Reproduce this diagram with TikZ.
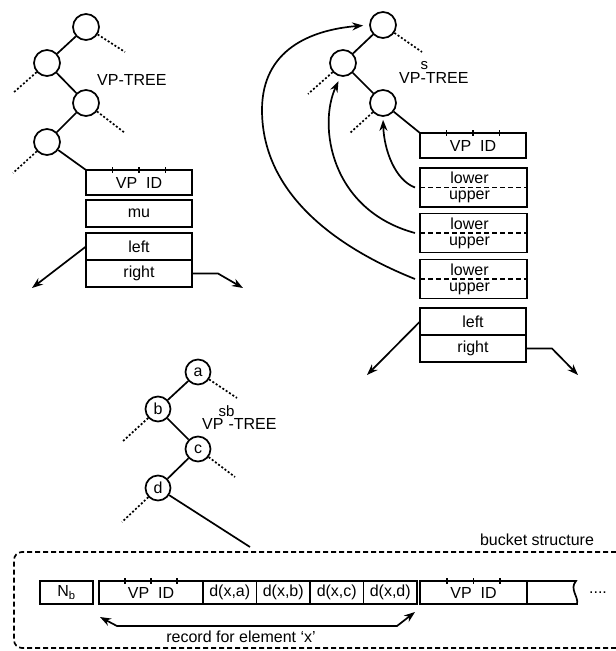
\documentclass[tikz,border=0pt]{standalone}
\usepackage{fontspec}
\setmainfont{Liberation Sans}
\usetikzlibrary{arrows.meta,positioning,calc}
\tikzset{
  vp/.style={circle,draw,minimum size=26pt,inner sep=0pt},
  fld/.style={rectangle,draw,inner sep=0pt,outer sep=0pt,minimum height=27pt},
  dotline/.style={dash pattern=on 2pt off 2pt},
  cutline/.style={dash pattern=on 5pt off 3pt},
  arr/.style={-{Stealth[length=11pt,width=8pt]}},
}

\begin{document}
\begin{tikzpicture}[x=1pt,y=-1pt,line width=1.7pt,font=\fontsize{16}{19}\selectfont]
\useasboundingbox (0,0) rectangle (616,651);

\node (l1) at (86,27) [vp] {};
\node (l2) at (47,63) [vp] {};
\node (l3) at (86,103) [vp] {};
\node (l4) at (47,142) [vp] {};
\coordinate (l1d) at (125,52);
\coordinate (l2d) at (13,93);
\coordinate (l3d) at (125,133);
\coordinate (l4d) at (13,173);
\node (lt) at (93,85) [anchor=base west] {VP-TREE};
\node (lid) at (139,182.5) [fld,minimum width=106pt,minimum height=25pt] {VP\ \ ID};
\node (lmu) at (139,213.5) [fld,minimum width=106pt] {mu};
\node (lleft) at (139,246.5) [fld,minimum width=106pt] {left};
\node (lright) at (139,273.5) [fld,minimum width=106pt] {right};
\coordinate (lle) at (32,288);
\coordinate (lre) at (243,288);
\draw (l1)--(l2)--(l3)--(l4)--(lid.north west);
\draw[dotline] (l1)--(l1d);
\draw[dotline] (l2)--(l2d);
\draw[dotline] (l3)--(l3d);
\draw[dotline] (l4)--(l4d);
\draw[arr] (lleft.west)--(lle);
\draw[arr] (lright.east)--++(26,0)--(lre);

\node (r1) at (383,25) [vp] {};
\node (r2) at (343,63) [vp] {};
\node (r3) at (383,103) [vp] {};
\coordinate (r1d) at (422,52);
\coordinate (r2d) at (308,94);
\coordinate (r3d) at (350,133);
\node (rt) at (395,83) [anchor=base west] {VP\rlap{\raisebox{14pt}{\fontsize{15}{18}\selectfont s}}-TREE};
\node (rid) at (473,145.5) [fld,minimum width=106pt,minimum height=25pt] {VP\ \ ID};
\draw (r1)--(r2)--(r3)--(rid.north west);
\draw[dotline] (r1)--(r1d);
\draw[dotline] (r2)--(r2d);
\draw[dotline] (r3)--(r3d);
\foreach \i/\y in {1/187.5,2/233,3/279}{
  \node (lu\i) at (473.5,\y) [fld,minimum width=107pt,minimum height=39pt] {};
  \draw[cutline] (lu\i.west)--(lu\i.east);
  \node (lo\i) at ([shift={(-4pt,9.5pt)}]lu\i.center) {lower};
  \node (up\i) at ([shift={(-4pt,-9.5pt)}]lu\i.center) {upper};
}
\node (rleft) at (473,321.5) [fld,minimum width=106pt] {left};
\node (rright) at (473,348.5) [fld,minimum width=106pt] {right};
\coordinate (rle) at (367,375);
\coordinate (rre) at (578,375);
\draw[arr] (rleft.west)--(rle);
\draw[arr] (rright.east)--++(26,0)--(rre);
\draw[arr,shorten >=3pt] ([xshift=-5pt]lu1.west) .. controls (395,180) and (384,150) .. (r3.-90);
\draw[arr,shorten >=5pt] ([xshift=-5pt]lu2.west) .. controls (330,210) and (318,125) .. (r2.-100);
\draw[arr,shorten >=6pt] ([xshift=-5pt]lu3.west) .. controls (330,245) and (262,190) .. (262,110)
  .. controls (262,50) and (310,30) .. (r1.west);

\node (a) at (198,372) [vp,minimum size=25pt] {a};
\node (b) at (158,409) [vp,minimum size=25pt] {b};
\node (c) at (198,449) [vp,minimum size=25pt] {c};
\node (d) at (158,488) [vp,minimum size=25pt] {d};
\coordinate (ad) at (237,398);
\coordinate (bd) at (122,442);
\coordinate (cd) at (235,477);
\coordinate (dd) at (122,522);
\coordinate (de) at (250,547);
\node (mt) at (198,429) [anchor=base west] {VP\kern5pt\rlap{\kern-10pt\raisebox{12.5pt}{\fontsize{15}{18}\selectfont sb}}-TREE};
\draw (a)--(b)--(c)--(d)--(de);
\draw[dotline] (a)--(ad);
\draw[dotline] (b)--(bd);
\draw[dotline] (c)--(cd);
\draw[dotline] (d)--(dd);

\draw[cutline,rounded corners=8pt] (616,552) -| (14,648) -- (616,648);
\node (bs) at (537,540) {bucket structure};
\node (nb) at (66.5,592.5) [fld,minimum width=53pt,minimum height=23pt] {N\textsubscript{b}};
\node (xid) at (151,592.5) [fld,minimum width=104pt,minimum height=23pt] {VP\ \ ID};
\node (xa) [fld,minimum width=53.5pt,minimum height=23pt,right=0pt of xid] {d(x,a)};
\node (xb) [fld,minimum width=53.5pt,minimum height=23pt,right=0pt of xa] {d(x,b)};
\node (xc) [fld,minimum width=53.5pt,minimum height=23pt,right=0pt of xb] {d(x,c)};
\node (xd) [fld,minimum width=53.5pt,minimum height=23pt,right=0pt of xc] {d(x,d)};
\node (yid) at (473.5,592.5) [fld,minimum width=107pt,minimum height=23pt] {VP\ \ ID};
\draw (yid.north east)--(576,581) .. controls (569,589) and (579,597) .. (577,604)--(yid.south east);
\node (dots) at (598,593) {....};
\foreach \b in {lid,rid,xid,yid}
  \foreach \f in {0.25,0.5,0.75}
    \draw ($(\b.north west)!\f!(\b.north east)$) ++(0,-3)--++(0,6);
\coordinate (ra) at (100,617);
\coordinate (rb) at (415,612);
\draw[{Stealth[length=11pt,width=8pt]}-{Stealth[length=11pt,width=8pt]}] (ra)--++(17,9)--++(280,0)--(rb);
\node (rec) at (241,637) {record for element `x'};
\end{tikzpicture}
\end{document}
